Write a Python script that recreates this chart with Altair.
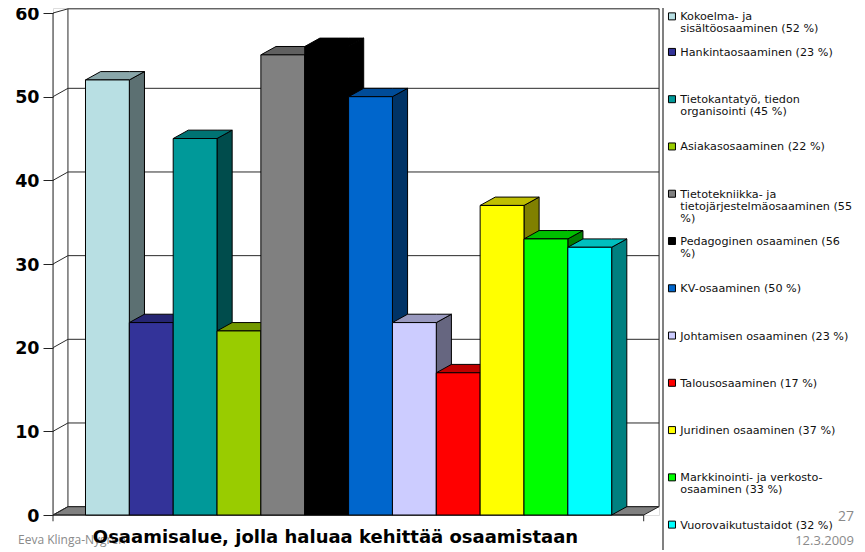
import altair as alt
import pandas as pd

# ---- values
labels = ["Kokoelma- ja|sisältöosaaminen (52 %)", "Hankintaosaaminen (23 %)",
          "Tietokantatyö, tiedon|organisointi (45 %)", "Asiakasosaaminen (22 %)",
          "Tietotekniikka- ja|tietojärjestelmäosaaminen (55|%)", "Pedagoginen osaaminen (56|%)",
          "KV-osaaminen (50 %)", "Johtamisen osaaminen (23 %)", "Talousosaaminen (17 %)",
          "Juridinen osaaminen (37 %)", "Markkinointi- ja verkosto-|osaaminen (33 %)",
          "Vuorovaikutustaidot (32 %)"]
values = [52, 23, 45, 22, 55, 56, 50, 23, 17, 37, 33, 32]
front_colors = ["#B8DFE3", "#333399", "#009999", "#99CC00", "#808080", "#000000",
                "#0066CC", "#CCCCFF", "#FF0000", "#FFFF00", "#00FF00", "#00FFFF"]
top_colors = ["#8AA7AA", "#262673", "#007373", "#739900", "#606060", "#000000",
              "#004C99", "#9999BF", "#BF0000", "#BFBF00", "#00BF00", "#00BFBF"]
side_colors = ["#5C7072", "#1A1A4D", "#004C4C", "#4C6600", "#404040", "#000000",
               "#003366", "#666680", "#800000", "#808000", "#008000", "#008080"]
y_ticks = [0, 10, 20, 30, 40, 50, 60]
chart_title = "Osaamisalue, jolla haluaa kehittää osaamistaan"

# ---- layout of the pseudo-3D box, in axis units (1 x unit = one bar)
X0, XBACK0, XFRONT_R, XBACK_R = -0.741, -0.40, 12.73, 13.08
DX, DY = 0.345, 1.0
WALL_TOP = 60.5
LEG_SYM_X, LEG_TXT_X = 13.375, 13.565
LEG_TOP, LEG_STEP = 59.6, 5.65

sides, tops, fronts, legend = [], [], [], []
for i, (l, v, f, t, s) in enumerate(zip(labels, values, front_colors, top_colors, side_colors)):
    x1 = i + 1
    sides += [dict(bar=i, x=x1, top=v, bottom=0, fill=s),
              dict(bar=i, x=x1 + DX, top=v + DY, bottom=DY, fill=s)]
    tops += [dict(bar=i, x=i, top=v, bottom=v, fill=t),
             dict(bar=i, x=i + DX, top=v + DY, bottom=v, fill=t),
             dict(bar=i, x=x1, top=v + DY, bottom=v, fill=t),
             dict(bar=i, x=x1 + DX, top=v + DY, bottom=v + DY, fill=t)]
    fronts.append(dict(x=i, x2=x1, value=v, fill=f, label=l))
    row_y = 61.0 - i * LEG_STEP if i else LEG_TOP
    legend.append(dict(y=row_y, fill=f, label=l, xs=LEG_SYM_X, xt=LEG_TXT_X))

floor = pd.DataFrame([dict(x=X0, top=0, bottom=0), dict(x=XBACK0, top=DY, bottom=0),
                      dict(x=XFRONT_R, top=DY, bottom=0), dict(x=XBACK_R, top=DY, bottom=DY)])

lines = []
for t in y_ticks:
    yb = min(t + DY, WALL_TOP)
    lines += [dict(g=f"g{t}", o=0, x=X0, y=t), dict(g=f"g{t}", o=1, x=XBACK0, y=yb),
              dict(g=f"g{t}", o=2, x=XBACK_R, y=yb)]
lines += [dict(g="front", o=0, x=X0, y=-0.75), dict(g="front", o=1, x=X0, y=60),
          dict(g="back", o=0, x=XBACK0, y=DY), dict(g="back", o=1, x=XBACK0, y=WALL_TOP),
          dict(g="right", o=0, x=XBACK_R, y=DY), dict(g="right", o=1, x=XBACK_R, y=WALL_TOP),
          dict(g="tick", o=0, x=XFRONT_R, y=0), dict(g="tick", o=1, x=XFRONT_R, y=-0.75),
          dict(g="base", o=0, x=X0, y=0), dict(g="base", o=1, x=XFRONT_R, y=0)]

xs = alt.Scale(domain=[X0, 13.079], nice=False, zero=False)
ys = alt.Scale(domain=[0, 60.6], nice=False, zero=False)
FONT = "DejaVu Sans"

X = alt.X("x:Q", title=None, scale=xs, axis=None)
Y = alt.Y("y:Q", title=None, scale=ys)
YT = alt.Y("top:Q", title=None, scale=ys)
Y2 = alt.Y2("bottom:Q")
FILL = alt.Fill("fill:N", scale=None, legend=None)

floor_l = alt.Chart(floor).mark_area(orient="vertical", fill="#808080", stroke="#222222", strokeWidth=1).encode(
    x=alt.X("x:Q", scale=xs, axis=None),
    y=alt.Y("top:Q", scale=ys, axis=alt.Axis(
        values=y_ticks, grid=False, domain=False, tickSize=10, tickColor="#222222", tickWidth=1,
        labelFont=FONT, labelFontWeight="bold", labelFontSize=17.5, labelColor="black",
        labelPadding=4, labelOffset=1, title=None, format="d")),
    y2=Y2)
line_l = alt.Chart(pd.DataFrame(lines)).mark_line(color="#2a2a2a", strokeWidth=1).encode(
    X, Y, detail="g:N", order="o:Q")
side_l = alt.Chart(pd.DataFrame(sides)).mark_area(orient="vertical", stroke="black", strokeWidth=1).encode(
    X, YT, y2=Y2, detail="bar:N", fill=FILL)
top_l = alt.Chart(pd.DataFrame(tops)).mark_area(orient="vertical", stroke="black", strokeWidth=1).encode(
    X, YT, y2=Y2, detail="bar:N", fill=FILL)
front_l = alt.Chart(pd.DataFrame(fronts)).mark_rect(stroke="black", strokeWidth=1).encode(
    x=alt.X("x:Q", title=None, scale=xs, axis=None),
    x2="x2:Q",
    y=alt.Y("value:Q", scale=ys, title=None),
    y2=alt.datum(0),
    fill=FILL)

leg_df = pd.DataFrame(legend)
sym_l = alt.Chart(leg_df).mark_square(size=49, opacity=1, stroke="black", strokeWidth=1).encode(
    x=alt.X("xs:Q", title=None, scale=xs, axis=None), y=Y, fill=FILL)
txt_l = alt.Chart(leg_df).mark_text(align="left", baseline="top", dy=-5, font=FONT, fontSize=11.2,
                                    lineBreak="|", lineHeight=12, color="#111111").encode(
    x=alt.X("xt:Q", title=None, scale=xs, axis=None), y=Y, text="label:N")

sep = alt.Chart(pd.DataFrame({"a": [0]})).mark_rule(color="#808080", strokeWidth=2).encode(
    x=alt.value(610), y=alt.value(0), y2=alt.value(545))

foot_l = alt.Chart(pd.DataFrame({"t": ["Eeva Klinga-Nygren"]})).mark_text(
    align="left", baseline="middle", font="Open Sans", fontSize=12, color="#8A8A8A").encode(
    x=alt.value(-35), y=alt.value(532), text="t:N")
date_l = alt.Chart(pd.DataFrame({"t": ["12.3.2009"]})).mark_text(
    align="right", baseline="middle", font="Open Sans", fontSize=13, color="#8A8A8A").encode(
    x=alt.value(801), y=alt.value(533), text="t:N")
page_l = alt.Chart(pd.DataFrame({"t": ["27"]})).mark_text(
    align="right", baseline="middle", font="Open Sans", fontSize=14, color="#8A8A8A").encode(
    x=alt.value(801), y=alt.value(508.5), text="t:N")
title_l = alt.Chart(pd.DataFrame({"t": [chart_title]})).mark_text(
    align="center", baseline="middle", font=FONT, fontWeight="bold", fontSize=18, color="black").encode(
    x=alt.value(282.5), y=alt.value(529.5), text="t:N")

chart = alt.layer(floor_l, line_l, side_l, top_l, front_l, sep, sym_l, txt_l, foot_l, date_l, page_l, title_l).properties(
    width=606, height=507,
    padding={"left": 45, "top": 0, "right": 198, "bottom": 35},
    autosize=alt.AutoSizeParams(type="none"),
).configure_view(stroke=None).configure(background="white")

chart.save("out.html", embed_options={"renderer": "svg", "actions": False})
